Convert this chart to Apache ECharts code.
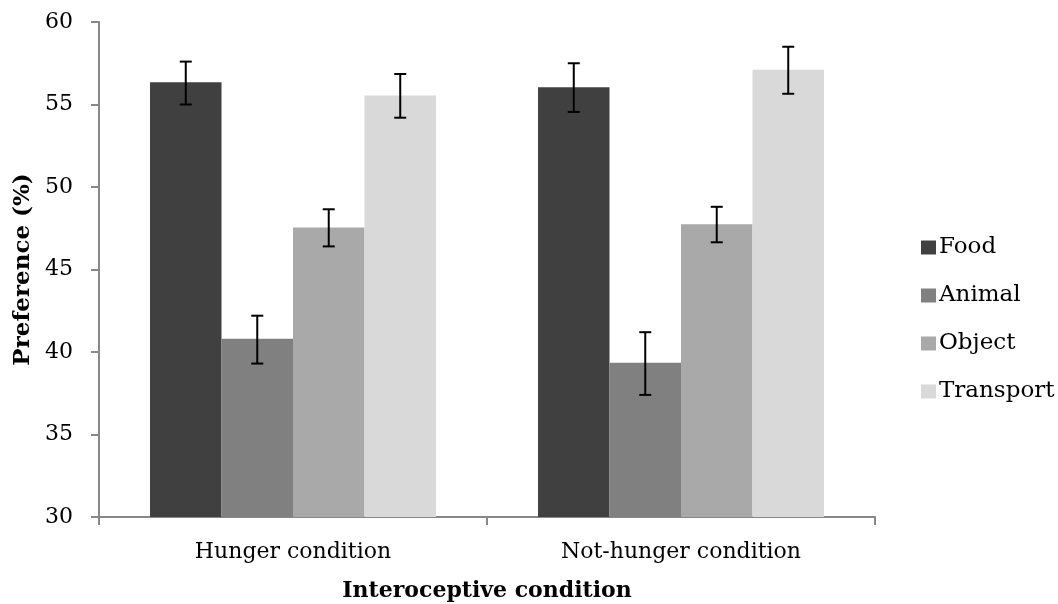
<!DOCTYPE html>
<html>
<head>
<meta charset="utf-8">
<script src="https://cdn.jsdelivr.net/npm/echarts@6/dist/echarts.min.js"></script>
<style>
  html, body { margin: 0; padding: 0; background: #fff; }
  #chart { width: 1058px; height: 604px; }
</style>
</head>
<body>
<div id="chart"></div>
<script>
// data
const conditions = ['Hunger condition', 'Not-hunger condition'];
const groups = ['Food', 'Animal', 'Object', 'Transport'];
const colors = ['#404040', '#808080', '#a9a9a9', '#d9d9d9'];

const food      = [56.35, 56.05];
const animal    = [40.8, 39.35];
const object    = [47.55, 47.75];
const transport = [55.55, 57.1];

// error bar ends [low, high] per condition
const foodErr      = [[55.0, 57.6], [54.55, 57.5]];
const animalErr    = [[39.3, 42.2], [37.4, 41.2]];
const objectErr    = [[46.4, 48.65], [46.65, 48.8]];
const transportErr = [[54.2, 56.85], [55.65, 58.5]];

const values = [food, animal, object, transport];
const errs = [foodErr, animalErr, objectErr, transportErr];

const FONT = 'DejaVu Serif';
const catGap = 0.263;

// flat list for the error-bar series: [category, low, high, groupIndex]
const errData = [];
errs.forEach((e, g) => {
  e.forEach((lh, c) => errData.push([c, lh[0], lh[1], g]));
});

const chart = echarts.init(document.getElementById('chart'));

const barSeries = groups.map((name, i) => ({
  name: name,
  type: 'bar',
  data: values[i],
  barGap: 0,
  barCategoryGap: (catGap * 100) + '%',
  itemStyle: { color: colors[i] },
  z: 2
}));

const errSeries = {
  type: 'custom',
  name: 'err',
  data: errData,
  encode: { x: 0, y: [1, 2] },
  z: 5,
  silent: true,
  renderItem: function (params, api) {
    const c = api.value(0);
    const g = api.value(3);
    const catW = api.size([1, 0])[0];
    const barW = catW * (1 - catGap) / groups.length;
    const lo = api.coord([c, api.value(1)]);
    const hi = api.coord([c, api.value(2)]);
    const x = lo[0] + (g - (groups.length - 1) / 2) * barW;
    const cap = 6;
    const style = { stroke: '#000', lineWidth: 2, fill: null };
    return {
      type: 'group',
      children: [
        { type: 'line', shape: { x1: x, y1: lo[1], x2: x, y2: hi[1] }, style: style },
        { type: 'line', shape: { x1: x - cap, y1: lo[1], x2: x + cap, y2: lo[1] }, style: style },
        { type: 'line', shape: { x1: x - cap, y1: hi[1], x2: x + cap, y2: hi[1] }, style: style }
      ]
    };
  }
};

chart.setOption({
  backgroundColor: '#fff',
  animation: false,
  textStyle: { fontFamily: FONT },
  grid: { left: 99, right: 183, top: 22, bottom: 87, containLabel: false, outerBoundsMode: 'none' },
  legend: {
    data: groups,
    orient: 'vertical',
    left: 916,
    top: 231,
    itemWidth: 15,
    itemHeight: 14,
    itemGap: 25,
    icon: 'rect',
    textStyle: { fontFamily: FONT, fontSize: 23, color: '#000', lineHeight: 22, padding: [0, 0, 0, -2] }
  },
  xAxis: {
    type: 'category',
    data: conditions,
    name: 'Interoceptive condition',
    nameLocation: 'middle',
    nameGap: 63,
    nameTextStyle: { fontFamily: FONT, fontSize: 22, fontWeight: 'bold', color: '#000' },
    axisLine: { lineStyle: { color: '#888', width: 2 } },
    axisTick: { show: true, length: 8, lineStyle: { color: '#888', width: 2 } },
    axisLabel: { fontFamily: FONT, fontSize: 22, color: '#000', margin: 24 }
  },
  yAxis: {
    type: 'value',
    min: 30,
    max: 60,
    interval: 5,
    name: 'Preference (%)',
    nameLocation: 'middle',
    nameGap: 60,
    nameTextStyle: { fontFamily: FONT, fontSize: 23, fontWeight: 'bold', color: '#000' },
    axisLine: { show: true, lineStyle: { color: '#888', width: 2 } },
    axisTick: { show: true, length: 8, lineStyle: { color: '#888', width: 2 } },
    splitLine: { show: false },
    axisLabel: { fontFamily: FONT, fontSize: 22, color: '#000', margin: 26 }
  },
  series: [...barSeries, errSeries]
});
</script>
</body>
</html>
